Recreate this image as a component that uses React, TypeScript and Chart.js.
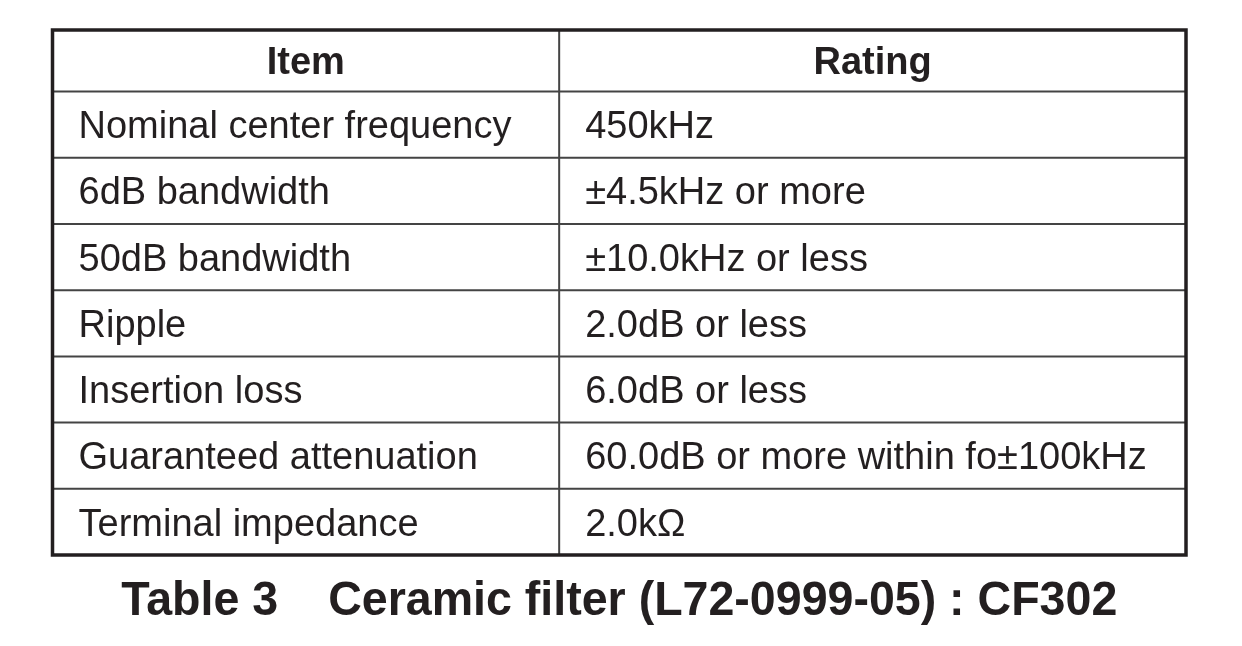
import React, { useRef, useEffect } from 'react';
import { Chart, registerables } from 'chart.js';

Chart.register(...registerables);

// table content
const headers = ['Item', 'Rating'];
const items = [
    'Nominal center frequency',
    '6dB bandwidth',
    '50dB bandwidth',
    'Ripple',
    'Insertion loss',
    'Guaranteed attenuation',
    'Terminal impedance',
];
const ratings = [
    '450kHz',
    '±4.5kHz or more',
    '±10.0kHz or less',
    '2.0dB or less',
    '6.0dB or less',
    '60.0dB or more within fo±100kHz',
    '2.0kΩ',
];
const captionLabel = 'Table 3';
const captionTitle = 'Ceramic filter (L72-0999-05) : CF302';

const COLUMN_SPLIT = 0.447; // share of width taken by first column
const HEADER_TOP = 0.07; // header row is a bit shorter than the others
const INK = '#231f20';
const FONT = '"Liberation Sans", Arial, Helvetica, sans-serif';

const tablePlugin = {
    id: 'specTable',
    afterDraw(chart: Chart) {
        const { ctx } = chart;
        const x = chart.scales.x;
        const y = chart.scales.y;
        const left = x.getPixelForValue(0);
        const right = x.getPixelForValue(1);
        const split = x.getPixelForValue(COLUMN_SPLIT);
        const top = y.getPixelForValue(HEADER_TOP);
        const bottom = y.getPixelForValue(items.length + 1);
        const pad = 26;
        const size = 38;

        ctx.save();

        // inner rules
        ctx.strokeStyle = '#444';
        ctx.lineWidth = 2;
        ctx.beginPath();
        for (let i = 1; i <= items.length; i++) {
            const py = y.getPixelForValue(i);
            ctx.moveTo(left, py);
            ctx.lineTo(right, py);
        }
        ctx.moveTo(split, top);
        ctx.lineTo(split, bottom);
        ctx.stroke();

        // outer frame
        ctx.strokeStyle = INK;
        ctx.lineWidth = 3.5;
        ctx.strokeRect(left, top, right - left, bottom - top);

        ctx.fillStyle = INK;
        ctx.textBaseline = 'alphabetic';

        // header
        ctx.font = `bold ${size}px ${FONT}`;
        ctx.textAlign = 'center';
        const hy = y.getPixelForValue((HEADER_TOP + 1) / 2) + size * 0.358;
        ctx.fillText(headers[0], (left + split) / 2, hy);
        ctx.fillText(headers[1], (split + right) / 2, hy);

        // body
        ctx.font = `${size}px ${FONT}`;
        ctx.textAlign = 'left';
        items.forEach((item, i) => {
            const by = y.getPixelForValue(i + 1.5) + size * 0.358;
            ctx.fillText(item, left + pad, by);
            ctx.fillText(ratings[i], split + pad, by);
        });

        // caption under the table
        const capSize = 49;
        const squeeze = 0.95;
        const gap = 50;
        ctx.font = `bold ${capSize}px ${FONT}`;
        const w1 = ctx.measureText(captionLabel).width * squeeze;
        const w2 = ctx.measureText(captionTitle).width * squeeze;
        const start = (left + right) / 2 - (w1 + gap + w2) / 2;
        const cy = bottom + 60;
        ctx.translate(start, cy);
        ctx.scale(squeeze, 1);
        ctx.fillText(captionLabel, 0, 0);
        ctx.fillText(captionTitle, (w1 + gap) / squeeze, 0);

        ctx.restore();
    },
};

const App: React.FC = () => {
    const canvasRef = useRef<HTMLCanvasElement>(null);
    const chartRef = useRef<Chart | null>(null);

    useEffect(() => {
        if (chartRef.current) chartRef.current.destroy();
        if (!canvasRef.current) return;

        chartRef.current = new Chart(canvasRef.current, {
            type: 'scatter',
            data: { datasets: [{ data: [], pointRadius: 0 }] },
            options: {
                responsive: true,
                maintainAspectRatio: false,
                animation: false,
                events: [],
                layout: { padding: { left: 52.5, right: 56, top: 30, bottom: 91 } },
                plugins: {
                    legend: { display: false },
                    tooltip: { enabled: false },
                },
                scales: {
                    x: { type: 'linear', display: false, min: 0, max: 1 },
                    y: { type: 'linear', display: false, min: HEADER_TOP, max: items.length + 1, reverse: true },
                },
            },
            plugins: [tablePlugin],
        });

        return () => { if (chartRef.current) chartRef.current.destroy(); };
    }, []);

    return (
        <div style={{ position: 'fixed', left: 0, top: 0, width: 1242, height: 646, background: '#fff' }}>
            <canvas ref={canvasRef}></canvas>
        </div>
    );
};

export default App;
